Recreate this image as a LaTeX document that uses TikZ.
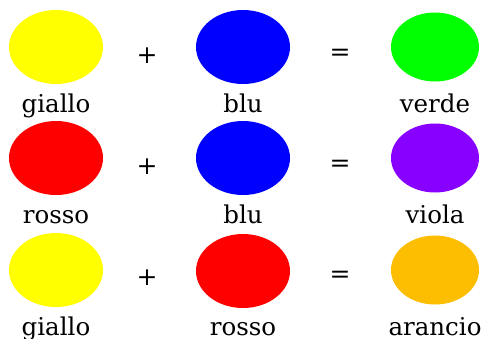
\documentclass[tikz,border=0pt]{standalone}
\usepackage{fontspec}
\setmainfont{DejaVu Serif}
\usepackage{tikz}
\usetikzlibrary{positioning}
\usetikzlibrary{shapes.geometric}

\definecolor{giallo}{HTML}{FFFF00}
\definecolor{blu}{HTML}{0000FF}
\definecolor{rosso}{HTML}{FF0000}
\definecolor{verde}{HTML}{00FF00}
\definecolor{viola}{HTML}{8800FF}
\definecolor{arancio}{HTML}{FDBD00}

\tikzset{
  colore/.style={ellipse, inner sep=0pt, minimum width=94pt, minimum height=74pt},
  misto/.style={ellipse, inner sep=0pt, minimum width=88pt, minimum height=69pt},
  nome/.style={inner sep=0pt, text height=0.76em, text depth=0.24em,
    font=\fontsize{24.5}{24.5}\selectfont},
  segno/.style={inner sep=0pt, font=\fontsize{25}{25}\selectfont}
}

\begin{document}
\begin{tikzpicture}[x=1pt,y=-1pt]
    \useasboundingbox (0,0) rectangle (486,338);

    % giallo + blu = verde
    \node [colore, fill=giallo] (g1) at (56,47) {};
    \node [colore, fill=blu] (b1) at (243,47) {};
    \node [misto, fill=verde] (v1) at (435,47) {};
    \node [segno] (p1) at (147,56) {+};
    \node [segno] (e1) at (340,55) {=};
    \node [nome, below=20pt of g1] (g1n) {giallo};
    \node [nome, below=20pt of b1] (b1n) {blu};
    \node [nome, below=23pt of v1] (v1n) {verde};

    % rosso + blu = viola
    \node [colore, fill=rosso] (r2) at (56,158) {};
    \node [colore, fill=blu] (b2) at (243,158) {};
    \node [misto, fill=viola] (v2) at (435,158) {};
    \node [segno] (p2) at (147,167) {+};
    \node [segno] (e2) at (340,166) {=};
    \node [nome, below=20pt of r2] (r2n) {rosso};
    \node [nome, below=20pt of b2] (b2n) {blu};
    \node [nome, below=23pt of v2] (v2n) {viola};

    % giallo + rosso = arancio
    \node [colore, fill=giallo] (g3) at (56,270) {};
    \node [colore, fill=rosso] (r3) at (243,271) {};
    \node [misto, fill=arancio] (a3) at (435,270) {};
    \node [segno] (p3) at (147,278) {+};
    \node [segno] (e3) at (340,277) {=};
    \node [nome, below=20pt of g3] (g3n) {giallo};
    \node [nome, below=19pt of r3] (r3n) {rosso};
    \node [nome, below=23pt of a3] (a3n) {arancio};
  \end{tikzpicture}
\end{document}
